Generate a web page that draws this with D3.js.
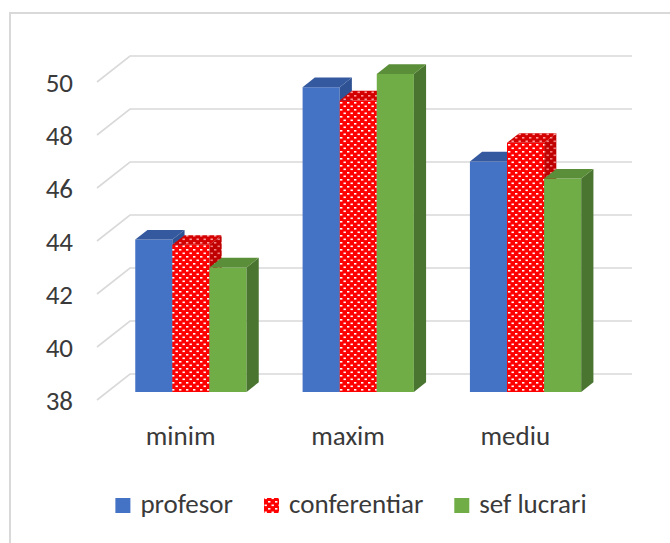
<!DOCTYPE html>
<html>
<head>
<meta charset="utf-8">
<script src="https://cdn.jsdelivr.net/npm/d3@7"></script>
<style>
  body { margin: 0; background: #fff; }
  text { font-family: Carlito, Lato, "Open Sans", sans-serif; fill: #3a3a3a; }
</style>
</head>
<body>
<svg id="chart" width="670" height="543"></svg>
<script>
// chart data
const categories = ["minim", "maxim", "mediu"];
const seriesNames = ["profesor", "conferentiar", "sef lucrari"];
const profesor = [43.75, 49.5, 46.7];
const conferentiar = [43.55, 49.0, 47.4];
const sefLucrari = [42.7, 50.0, 46.05];
const yTicks = [38, 40, 42, 44, 46, 48, 50];

const seriesValues = [profesor, conferentiar, sefLucrari];

const svg = d3.select("#chart");

// 3d look: full depth of the floor and where the bars sit in it
const DX = 33, DY = 26;
const zFront = 0.31, zBack = 0.68;
const FONT = 27;

// outer border
svg.append("rect")
    .attr("x", 10).attr("y", 13)
    .attr("width", 700).attr("height", 600)
    .attr("fill", "#fff")
    .attr("stroke", "#d9d9d9")
    .attr("stroke-width", 2);

// patterns for the red series
let defs = svg.append("defs");
function dotPattern(id, base, dot) {
    let p = defs.append("pattern")
        .attr("id", id)
        .attr("width", 7).attr("height", 7)
        .attr("patternUnits", "userSpaceOnUse");
    p.append("rect").attr("width", 7).attr("height", 7).attr("fill", base);
    p.append("rect").attr("x", 0.5).attr("y", 0.5).attr("width", 2.4).attr("height", 1.6).attr("fill", dot);
    p.append("rect").attr("x", 4).attr("y", 4).attr("width", 2.4).attr("height", 1.6).attr("fill", dot);
}
dotPattern("redFront", "#ff0000", "#ffffff");
dotPattern("redTop", "#d40000", "#ff9a9a");
dotPattern("redSide", "#c00000", "#f08080");

const styles = [
    { front: "#4472c4", top: "#34599e", side: "#2f5294" },
    { front: "url(#redFront)", top: "url(#redTop)", side: "url(#redSide)" },
    { front: "#70ad47", top: "#5b8e39", side: "#4a7530" }
];

// scales on the front plane
const x = d3.scaleBand()
    .domain(categories)
    .range([97, 599]);
const bw = x.bandwidth();
const xSub = d3.scaleBand()
    .domain(seriesNames)
    .range([bw * 0.1675, bw * 0.8325]);
const y = d3.scaleLinear()
    .domain([38, 50])
    .range([400, 82]);

// project a point at depth z (0 = front, 1 = back wall)
function p(px, v, z) {
    return [px + z * DX, y(v) - z * DY];
}
function poly(pts) {
    return "M" + pts.map(d => d.join(",")).join("L") + "Z";
}

// gridlines: side wall diagonal + back wall line
let grid = svg.append("g").attr("id", "grid");
yTicks.forEach(function(t) {
    let a = p(x.range()[0], t, 0), b = p(x.range()[0], t, 1), c = p(x.range()[1], t, 1);
    grid.append("path")
        .attr("d", `M${a}L${b}L${c}`)
        .attr("fill", "none")
        .attr("stroke", "#d9d9d9")
        .attr("stroke-width", 1.6);
});

// y tick labels
svg.append("g").selectAll("text")
    .data(yTicks)
    .join("text")
    .attr("x", 73)
    .attr("y", d => y(d))
    .attr("dy", "0.36em")
    .attr("text-anchor", "end")
    .attr("font-size", FONT)
    .text(d => d);

// bars, drawn left to right so the next bar hides the previous side
let bars = svg.append("g").attr("id", "bars");
categories.forEach(function(cat, ci) {
    seriesNames.forEach(function(s, si) {
        let v = seriesValues[si][ci];
        let x0 = x(cat) + xSub(s), x1 = x0 + xSub.bandwidth();
        let st = styles[si];
        // front face
        bars.append("path")
            .attr("d", poly([p(x0, 38, zFront), p(x0, v, zFront), p(x1, v, zFront), p(x1, 38, zFront)]))
            .attr("fill", st.front);
        // right side
        bars.append("path")
            .attr("d", poly([p(x1, 38, zFront), p(x1, v, zFront), p(x1, v, zBack), p(x1, 38, zBack)]))
            .attr("fill", st.side);
        // top
        bars.append("path")
            .attr("d", poly([p(x0, v, zFront), p(x0, v, zBack), p(x1, v, zBack), p(x1, v, zFront)]))
            .attr("fill", st.top);
    });
});

// category labels
svg.append("g").selectAll("text")
    .data(categories)
    .join("text")
    .attr("x", d => x(d) + bw / 2)
    .attr("y", 445)
    .attr("text-anchor", "middle")
    .attr("font-size", FONT)
    .text(d => d);

// legend, laid out from measured text widths and centred
let legend = svg.append("g").attr("id", "legend");
let items = legend.selectAll("g")
    .data(seriesNames)
    .join("g");
items.append("rect")
    .attr("width", 15).attr("height", 15)
    .attr("y", 498)
    .attr("fill", (d, i) => styles[i].front);
items.append("text")
    .attr("x", 25)
    .attr("y", 513)
    .attr("font-size", FONT)
    .text(d => d);
let widths = [];
items.each(function() { widths.push(25 + d3.select(this).select("text").node().getComputedTextLength()); });
let total = d3.sum(widths) + 31 * (widths.length - 1);
let cursor = 351 - total / 2;
items.attr("transform", function(d, i) {
    let tx = cursor;
    cursor += widths[i] + 31;
    return `translate(${tx},0)`;
});
</script>
</body>
</html>
